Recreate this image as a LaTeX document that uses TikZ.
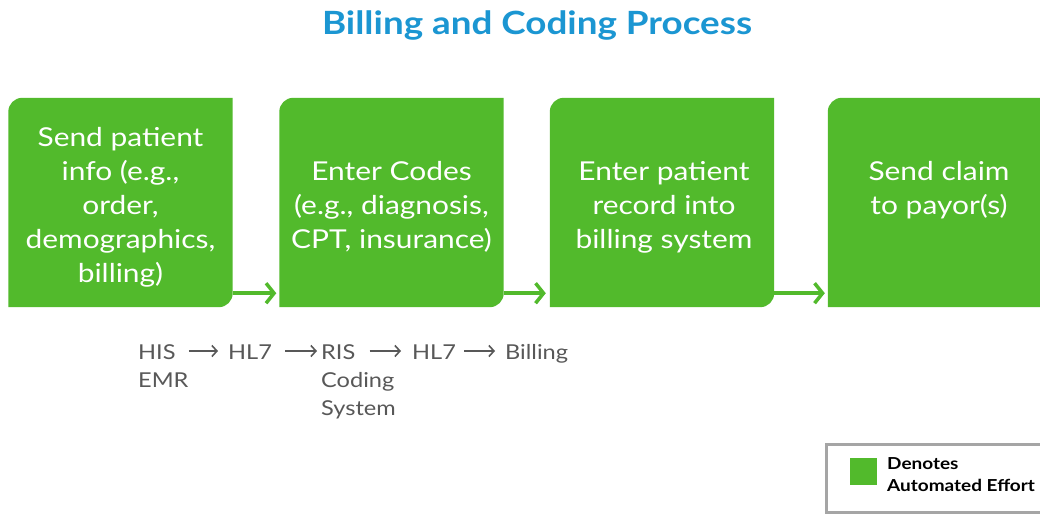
\documentclass[tikz,border=0pt]{standalone}
\usepackage{fontspec}
\setmainfont{Lato}[FakeStretch=1.15]
\usetikzlibrary{arrows.meta}
\definecolor{gr}{RGB}{82,186,44}
\definecolor{tb}{RGB}{27,150,210}
\definecolor{tg}{RGB}{88,88,88}
\definecolor{lg}{RGB}{165,165,165}
\begin{document}
\begin{tikzpicture}[x=1pt,y=1pt,
  box/.style={inner sep=0, minimum height=209pt, minimum width=224pt},
  boxtext/.style={text=white, align=center, font=\fontsize{26}{34}\selectfont, inner sep=0, anchor=north},
  garrow/.style={draw=gr, line width=3.5pt, -{Straight Barb[length=8pt,width=20pt]}},
  gtext/.style={text=tg, font=\fontsize{20.5}{28}\selectfont, inner sep=0, anchor=base west, text height=16pt, text depth=0pt},
  grarrow/.style={draw=tg, line width=1.6pt, -{Straight Barb[length=5pt,width=11pt]}}
]
\clip (0,0) rectangle (1040,-514);
\fill[white] (0,0) rectangle (1040,-514);

% title
\node[text=tb, font=\fontsize{32}{38}\selectfont\bfseries, anchor=base, inner sep=0] (title) at (537,-34) {Billing and Coding Process};

% boxes
\node[box] (b1) at (120.5,-202.5) {};
\node[box] (b2) at (391.5,-202.5) {};
\node[box] (b3) at (662,-202.5) {};
\node[box] (b4) at (940,-202.5) {};
\foreach \b in {b1,b2,b3,b4}{
  \fill[gr] (\b.south west) -- ([yshift=-14pt]\b.north west)
    arc[start angle=180, end angle=90, radius=14pt] -- (\b.north east)
    -- ([yshift=14pt]\b.south east)
    arc[start angle=0, end angle=-90, radius=14pt] -- cycle;
}

\node[boxtext] (t1) at (120.5,-127) {Send patient\\info (e.g.,\\order,\\demographics,\\billing)};
\node[boxtext] (t2) at (391.5,-161) {Enter Codes\\(e.g., diagnosis,\\CPT, insurance)};
\node[boxtext] (t3) at (664,-161) {Enter patient\\record into\\billing system};
\node[boxtext] (t4) at (939,-161) {Send claim\\to payor(s)};

% green arrows
\draw[garrow] ([yshift=14pt]b1.south east) -- ([yshift=14pt,xshift=-3pt]b2.south west);
\draw[garrow] ([yshift=14pt]b2.south east) -- ([yshift=14pt,xshift=-4pt]b3.south west);
\draw[garrow] ([yshift=14pt]b3.south east) -- ([yshift=14pt,xshift=-3pt]b4.south west);

% system flow
\node[gtext] (his) at (138,-359) {HIS};
\node[gtext] (emr) at (138,-387) {EMR};
\node[gtext] (hl7a) at (228,-359) {HL7};
\node[gtext] (ris) at (321,-359) {RIS};
\node[gtext] (coding) at (321,-387) {Coding};
\node[gtext] (system) at (321,-415) {System};
\node[gtext] (hl7b) at (412,-359) {HL7};
\node[gtext] (billing) at (505,-359) {Billing};
\draw[grarrow, shorten <=13pt, shorten >=10pt] (his.east) -- (hl7a.west);
\draw[grarrow, shorten <=13pt, shorten >=4pt] (hl7a.east) -- (ris.west);
\draw[grarrow, shorten <=14pt, shorten >=11pt] (ris.east) -- (hl7b.west);
\draw[grarrow, shorten <=8pt, shorten >=10pt] (hl7b.east) -- (billing.west);

% legend
\node[draw=lg, line width=3pt, fill=white, minimum width=230pt, minimum height=68pt, inner sep=0] (legend) at (941,-478) {};
\node[fill=gr, minimum size=27pt, inner sep=0] (lsq) at (863.5,-471.5) {};
\node[anchor=north west, align=left, inner sep=0, font=\fontsize{16.5}{22}\selectfont\bfseries] (ltext) at (887,-457) {Denotes\\Automated Effort};
\end{tikzpicture}
\end{document}
